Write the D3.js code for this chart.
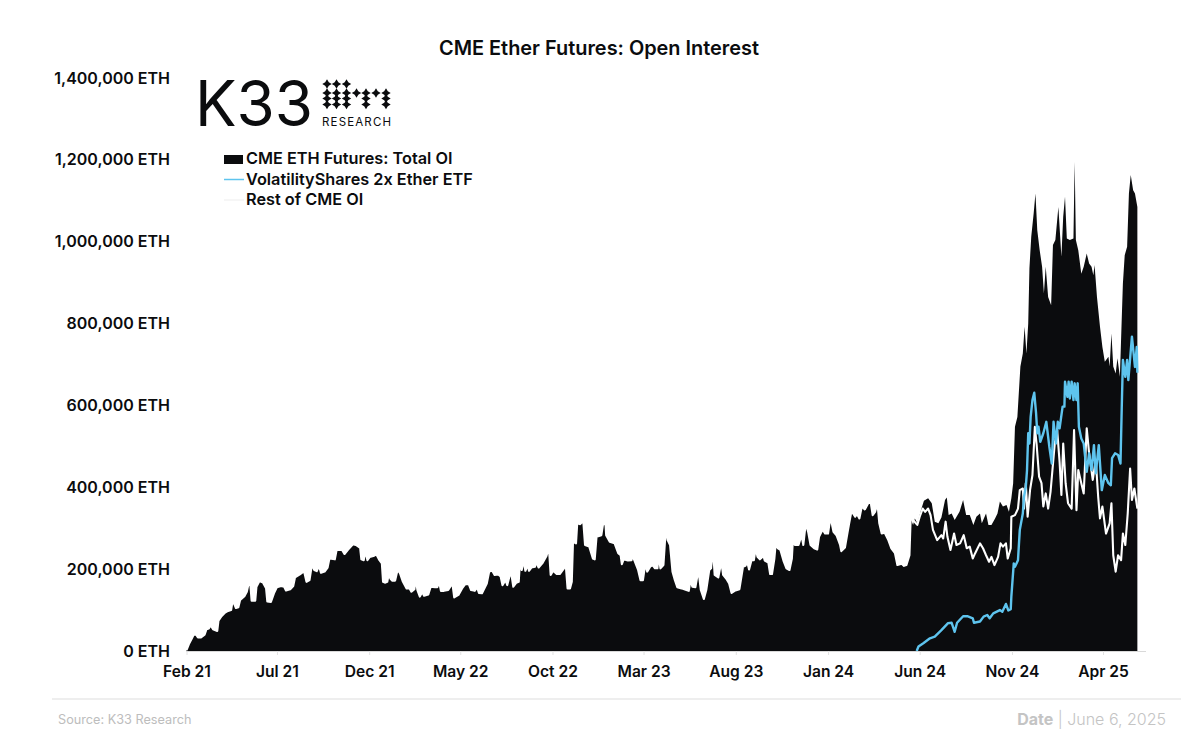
<!DOCTYPE html>
<html><head><meta charset="utf-8">
<style>
html,body{margin:0;padding:0;background:#fff}
svg{display:block}
text{font-family:Inter,"Noto Sans",sans-serif;fill:#0b0c0e}
</style>
<script src="https://cdn.jsdelivr.net/npm/d3@7"></script>
</head><body><svg id="c" width="1200" height="748"></svg>
<script>
// days since 1 Feb 2021, values in thousand ETH
const totalDays=[0,4,9,12,16,19,24,30,33,37,40,44,51,53,58,64,69,74,76,79,82,86,89,96,100,103,106,108,114,116,121,127,132,134,140,145,150,157,162,165,172,177,180,188,195,199,204,208,212,216,220,223,229,234,237,246,249,258,262,268,276,281,288,290,294,297,300,304,310,315,320,324,326,
329,333,336,338,341,346,350,354,359,365,370,373,378,380,383,387,391,394,401,405,412,416,419,422,427,434,441,444,451,457,462,468,472,478,482,485,490,498,502,507,511,517,521,524,529,532,538,542,547,551,553,556,559,562,566,568,572,578,580,584,590,597,601,604,608,614,619,
626,628,632,636,639,641,646,648,653,658,661,668,674,677,680,688,691,695,696,702,710,716,720,722,725,732,738,739,743,749,753,757,761,764,769,773,777,781,783,786,791,795,798,802,806,810,814,821,829,833,836,839,844,849,853,858,862,867,870,873,876,882,887,890,895,900,904,909,917,923,927,930,933,937,941,944,947,951,
957,959,965,968,971,975,977,981,985,990,995,1000,1004,1006,1009,1015,1020,1023,1027,1031,1035,1041,1046,1049,1055,1059,1064,1068,1073,1078,1084,1086,1092,1096,1099,1103,1106,1109,1112,1116,1120,1125,1131,1135,1138,1142,1146,1149,1153,1158,1164,1169,1175,1179,1186,1190,1194,1199,1201,1205,1208,1212,1219,1223,1230,1236,1241,1247,1252,1258,1261,1264,1269,1274,1282,
1288,1293,1299,1305,1310,1316,1319,1326,1330,1335,1341,1345,1349,1354,1360,1364,1368,1371,1374,1378,1383,1387,1390,1393,1396,1398,1401,1405,1408,1411,1415,1419,1422,1425,1429,1434,1437,1441,1446,1451,1454,1457,1460,1465,1471,1473,1475,1479,1484,1488,1493,1497,1501,1504,1506,1510,1515,1519,1523,1529,1531,1534,1537,1541,1544,1548,1551,1553,1556,1560,1563,1566,1570,1573,1577];
const totalOI=[2,17,31,40,40,33,33,40,53,55,63,53,49,74,85,94,98,100,118,116,105,107,125,134,145,165,161,123,123,157,171,167,153,121,120,141,156,159,157,148,151,159,180,187,195,169,173,211,198,195,208,191,194,204,226,224,247,247,237,248,261,259,252,224,222,245,222,230,232,236,222,214,169,
167,169,193,177,172,172,198,190,169,153,153,145,151,177,149,133,144,135,138,157,156,156,169,147,147,149,165,131,137,153,163,164,149,147,156,142,141,165,194,196,186,187,182,161,173,161,196,157,167,169,218,198,222,196,210,196,204,206,218,204,214,232,253,186,196,188,188,
202,229,153,153,169,267,263,312,310,318,259,255,226,224,279,283,312,308,283,267,263,239,234,212,224,221,222,234,221,198,173,173,214,194,206,210,202,202,234,202,210,300,271,259,194,173,156,153,149,147,175,157,156,198,149,127,149,198,202,251,186,180,218,186,177,165,142,147,151,206,208,218,199,222,222,251,230,224,
232,221,216,188,188,226,259,251,247,221,202,198,226,279,259,259,283,259,312,291,259,251,248,279,297,287,287,328,291,283,259,244,253,287,312,343,335,328,335,324,353,346,362,361,332,340,361,312,287,289,271,251,239,210,213,208,210,234,324,308,324,312,348,367,373,361,316,312,326,369,375,332,336,320,340,
369,332,332,308,328,336,312,336,308,308,324,336,365,353,357,340,373,410,548,572,695,727,792,727,800,935,1012,1069,1118,1028,979,939,874,939,865,845,992,1004,1085,963,1061,1110,1008,1004,1008,1195,1004,979,922,939,971,947,939,918,943,865,792,743,707,719,695,776,695,678,715,670,808,898,967,988,1118,1163,1126,1118,1085];

const etfDays=[1211,1214,1222,1233,1241,1252,1263,1269,1274,1278,1288,1295,1304,1306,1316,1322,1328,1332,1338,1349,1353,1359,1363,1367,1368,1372,1374,1379,1382,1387,1389,1392,1394,1396,1398,1400,1403,1406,1409,1411,1413,1416,1421,1426,1431,1435,1438,1442,1445,1448,1453,1456,1457,1461,1463,1465,1468,1471,1473,1476,1478,1480,1484,1488,1493,1497,1501,1505,1508,1513,1518,1523,1529,1533,1535,1540,1545,1549,1551,1553,1557,1560,1562,1568,1573,1576,1577];
const etfOI=[0,11,19,31,35,51,68,69,47,69,85,85,80,69,72,84,88,80,92,100,96,115,99,102,133,214,206,222,296,336,377,401,442,532,507,572,613,631,581,532,548,511,532,560,499,458,560,507,560,544,597,597,658,621,658,617,658,613,654,613,654,548,519,507,438,483,442,503,434,503,393,430,410,405,471,483,479,458,589,711,670,711,662,768,694,743,680];

const restDaysAfterEtf=[1205,1212,1216,1221,1225,1230,1234,1238,1245,1252,1255,1259,1262,1267,1273,1277,1283,1289,1294,1299,1304,1308,1316,1321,1326,1331,1335,1340,1346,1350,1354,1359,1362,1367,1368,1374,1379,1382,1387,1389,1392,1395,1399,1403,1407,1410,1414,1418,1421,1425,1429,1433,1440,1444,1448,1451,1454,1458,1462,1468,1472,1476,1479,1484,1488,1493,1497,1503,1508,1512,1515,1519,1525,1531,1534,1537,1541,1545,1550,1553,1557,1561,1565,1568,1572,1577];
const restOIAfterEtf=[320,308,328,348,340,348,332,296,271,283,275,316,279,247,287,259,263,283,251,255,226,239,263,251,234,218,230,210,230,263,255,263,226,251,328,332,348,393,397,348,410,328,393,430,548,503,426,410,353,385,348,389,507,540,462,381,507,410,361,348,540,344,442,410,385,544,483,418,467,377,324,353,287,312,361,234,194,234,222,287,259,336,446,369,397,348];

const yTicks=[0,200000,400000,600000,800000,1000000,1200000,1400000];
const xTickDates=["2021-02-01","2021-07-01","2021-12-01","2022-05-01","2022-10-01","2023-03-01","2023-08-01","2024-01-01","2024-06-01","2024-11-01","2025-04-01"];
const legendLabels=["CME ETH Futures: Total OI","VolatilityShares 2x Ether ETF","Rest of CME OI"];

const BLACK="#0b0c0e",BLUE="#5ec4ee";
const svg=d3.select("#c");
const parse=d3.utcParse("%Y-%m-%d");
const start=parse("2021-02-01");
const toDate=d=>d3.utcDay.offset(start,d);
const x=d3.scaleUtc().domain([start,parse("2025-04-01")]).range([186.5,1103]);
const y=d3.scaleLinear().domain([0,1400000]).range([651,78]);
const zip=(a,b)=>a.map((d,i)=>({date:toDate(d),v:b[i]*1000}));
const total=zip(totalDays,totalOI), etf=zip(etfDays,etfOI);
const rest=zip(totalDays,totalOI).filter(d=>d.date<toDate(1205)).concat(zip(restDaysAfterEtf,restOIAfterEtf));

// title
svg.append("text").attr("x",599).attr("y",55).attr("text-anchor","middle")
  .style("font-size","19.9px").style("font-weight",600).text("CME Ether Futures: Open Interest");

// marks
svg.append("path").datum(total).attr("fill",BLACK)
  .attr("d",d3.area().x(d=>x(d.date)).y0(y(0)).y1(d=>y(d.v)));
const line=d3.line().x(d=>x(d.date)).y(d=>y(d.v));
svg.append("path").datum(rest).attr("fill","none").attr("stroke","#fff").attr("stroke-width",2.1).attr("stroke-linejoin","round").attr("d",line);
svg.append("path").datum(etf).attr("fill","none").attr("stroke",BLUE).attr("stroke-width",2.4).attr("stroke-linejoin","round").attr("d",line);

// axes
const gy=svg.append("g").attr("transform","translate(187,0)")
  .call(d3.axisLeft(y).tickValues(yTicks).tickSize(0).tickPadding(17).tickFormat(d=>d3.format(",")(d)+" ETH"));
gy.select(".domain").remove();
gy.selectAll("text").style("font-size","16px").style("font-weight",600).style("font-family","Inter").attr("fill",BLACK);
const gx=svg.append("g").attr("transform","translate(0,651)")
  .call(d3.axisBottom(x).tickValues(xTickDates.map(parse)).tickSizeOuter(0).tickSize(4).tickPadding(11).tickFormat(d3.utcFormat("%b %y")));
gx.select(".domain").attr("d","M186,0.5H1146").attr("stroke","#d9d9d9").attr("stroke-width",1);
gx.selectAll("line").attr("stroke","#e2e2e2");
gx.selectAll("text").style("font-size","15.6px").style("font-weight",600).style("font-family","Inter").attr("fill",BLACK);

// legend
const lg=svg.append("g");
lg.append("rect").attr("x",224).attr("y",155).attr("width",19).attr("height",9).attr("fill",BLACK);
lg.append("line").attr("x1",224).attr("x2",244).attr("y1",179.5).attr("y2",179.5).attr("stroke",BLUE).attr("stroke-width",1.5);
lg.append("line").attr("x1",224).attr("x2",244).attr("y1",200).attr("y2",200).attr("stroke","#f3f3f3").attr("stroke-width",1.5);
legendLabels.forEach((t,i)=>lg.append("text").attr("x",246).attr("y",[164,185,205][i])
  .style("font-size","16.3px").style("font-weight",600).text(t));

// logo
const logo=svg.append("g");
logo.append("text").attr("x",195).attr("y",126).attr("textLength",118).attr("lengthAdjust","spacingAndGlyphs")
  .style("font-size","63px").style("font-weight",400).text("K33");
const star=(cx,cy,r)=>`M${cx},${cy-r}L${cx+r*0.38},${cy-r*0.38}L${cx+r},${cy}L${cx+r*0.38},${cy+r*0.38}L${cx},${cy+r}L${cx-r*0.38},${cy+r*0.38}L${cx-r},${cy}L${cx-r*0.38},${cy-r*0.38}Z`;
const cols=[327,336.5,346.5,356.5,366,376,386];
[[84,[0,1,2]],[93,[0,1,2,3,4,5,6]],[98.5,[0,1,2,4,6]],[104.5,[0,1,2,4,6]]].forEach(([ry,cs])=>{
  cs.forEach(c=>logo.append("path").attr("d",star(cols[c],ry,4.7)).attr("fill",BLACK));
});
logo.append("text").attr("x",322).attr("y",125.5).attr("textLength",69)
  .style("font-size","11.5px").style("font-weight",400).text("RESEARCH");

// footer
svg.append("line").attr("x1",52).attr("x2",1181).attr("y1",699).attr("y2",699).attr("stroke","#e8e8e8").attr("stroke-width",1.5);
svg.append("text").attr("x",58).attr("y",724).style("font-size","12.7px").style("fill","#bdbdbd").text("Source:  K33 Research");
const dt=svg.append("text").attr("x",1166).attr("y",725).attr("text-anchor","end").style("font-size","16px").style("fill","#c4c4c4");
dt.append("tspan").style("font-weight",700).text("Date");
dt.append("tspan").style("font-weight",300).text(" | June 6, 2025");
</script></body></html>
